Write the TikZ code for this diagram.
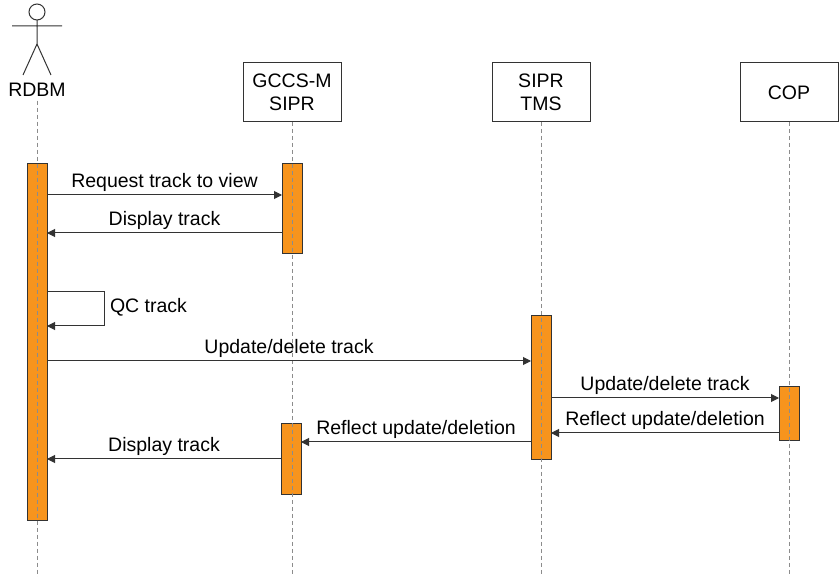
\documentclass[tikz,border=0pt]{standalone}
\usepackage{fontspec}
\setmainfont{Liberation Sans}
\usetikzlibrary{arrows.meta}
\definecolor{actorange}{HTML}{F7941D}
\definecolor{linegray}{HTML}{333333}
\definecolor{lifegray}{HTML}{8C8C8C}
\begin{document}
\begin{tikzpicture}[x=1pt,y=-1pt,inner sep=0pt,outer sep=0pt,
font=\fontsize{19.5}{22.5}\selectfont,
objblock/.style={draw=linegray,rectangle,fill=white,minimum width=98pt,minimum height=59pt,align=center,line width=1pt},
actbar/.style={draw=linegray,fill=actorange,rectangle,minimum width=20pt,line width=1pt},
lifeline/.style={draw=lifegray,dashed,line width=0.8pt,dash pattern=on 4pt off 3pt},
msg/.style={draw=linegray,line width=1pt,-{Triangle[length=8pt,width=8pt]}}]
\useasboundingbox (0,0) rectangle (839,577);
% actor
\draw[linegray,line width=1pt] (37,12) circle (8);
\draw[linegray,line width=1pt] (37,20) -- (37,44) (12,26) -- (62,26) (23,75) -- (37,44) -- (51,75);
\draw (37,90) node (rdbm) {RDBM};
% objects
\draw (292,92.5) node[objblock] (gccs) {GCCS-M\\SIPR};
\draw (541,92.5) node[objblock] (tms) {SIPR\\TMS};
\draw (789,92.5) node[objblock] (cop) {COP};
% activations
\draw (37,342.5) node[actbar,minimum height=357pt] (rdbmact) {};
\draw (292,209) node[actbar,minimum height=90pt] (gccsact1) {};
\draw (541,388) node[actbar,minimum height=144pt] (tmsact) {};
\draw (789,414) node[actbar,minimum height=54pt] (copact) {};
\draw (291,459.5) node[actbar,minimum height=71pt] (gccsact2) {};
% lifelines
\draw[lifeline] (rdbm.south) ++(0,4) -- (37,577);
\draw[lifeline] (gccs.south) -- (292,577);
\draw[lifeline] (tms.south) -- (541,577);
\draw[lifeline] (cop.south) -- (789,577);
% messages
\draw[msg] (rdbmact.east |- 0,195) -- node[above=3pt] {Request track to view} (gccsact1.west |- 0,195);
\draw[msg] (gccsact1.west |- 0,233) -- node[above=3pt] {Display track} (rdbmact.east |- 0,233);
\draw[msg] (rdbmact.east |- 0,292) -- ++(57,0) -- node[right=6pt,pos=0.45] {QC track} ++(0,34) -- (rdbmact.east |- 0,326);
\draw[msg] (rdbmact.east |- 0,361) -- node[above=3pt] {Update/delete track} (tmsact.west |- 0,361);
\draw[msg] (tmsact.east |- 0,398) -- node[above=3pt] {Update/delete track} (copact.west |- 0,398);
\draw[msg] (copact.west |- 0,433) -- node[above=3pt] {Reflect update/deletion} (tmsact.east |- 0,433);
\draw[msg] (tmsact.west |- 0,442) -- node[above=3pt] {Reflect update/deletion} (gccsact2.east |- 0,442);
\draw[msg] (gccsact2.west |- 0,459) -- node[above=3pt] {Display track} (rdbmact.east |- 0,459);
\end{tikzpicture}
\end{document}
